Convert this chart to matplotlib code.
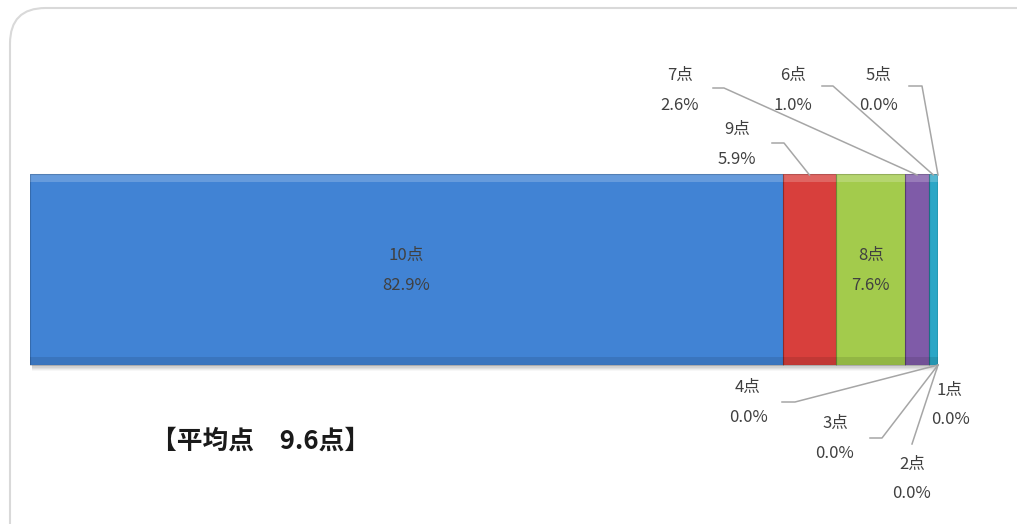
import matplotlib
matplotlib.use('Agg')
import matplotlib.pyplot as plt
from matplotlib.patches import FancyBboxPatch
import numpy as np

plt.rcParams['font.family'] = ['Noto Sans CJK JP', 'DejaVu Sans']

#%% data
labels = ['10点', '9点', '8点', '7点', '6点', '5点', '4点', '3点', '2点', '1点']
values = [82.9, 5.9, 7.6, 2.6, 1.0, 0.0, 0.0, 0.0, 0.0, 0.0]
colors = ['#4183d4', '#d83f3c', '#a3cb4c', '#7f5ba8', '#2ba6c6',
          '#f59d3d', '#8db3e2', '#e6b9b8', '#d7e4bd', '#ccc1da']
average_text = '【平均点　9.6点】'

#%% layout (pixels, origin top-left)
W, H = 1017, 524
BAR_L, BAR_R = 30, 938
BAR_TOP, BAR_BOT = 174, 365
BAR_Y = (BAR_TOP + BAR_BOT) / 2
BAR_H = BAR_BOT - BAR_TOP

# outside labels: text centre, line start, elbow, attach to top/bottom
outside = {
    '9点': ((737, 144), (772, 143), (784, 143), 'top'),
    '7点': ((680, 90), (713, 88), (724, 88), 'top'),
    '6点': ((793, 90), (822, 86), (833, 86), 'top'),
    '5点': ((879, 90), (909, 86), (922, 86), 'top'),
    '4点': ((748, 402), (782, 402), (795, 402), 'bot'),
    '3点': ((835, 438), (870, 438), (882, 438), 'bot'),
    '2点': ((912, 479), None, (912, 444), 'bot'),
    '1点': ((950, 405), None, None, 'bot'),
}
inside = ['10点', '8点']

def px(x):
    return (x - BAR_L) / (BAR_R - BAR_L) * 100

#%% figure
fig = plt.figure(figsize=(W / 100, H / 100), dpi=100)
fig.patches.append(FancyBboxPatch((10 / W, -0.1), 1.1, (524 - 8) / H + 0.1,
                                  boxstyle='round,pad=0,rounding_size=0.035',
                                  transform=fig.transFigure, facecolor='white',
                                  edgecolor='#d9d9d9', linewidth=1.5, zorder=-1,
                                  mutation_aspect=W / H))

ax = fig.add_axes([BAR_L / W, 0, (BAR_R - BAR_L) / W, 1])
ax.set_xlim(0, 100)
ax.set_ylim(H, 0)
ax.axis('off')

lefts = np.concatenate([[0], np.cumsum(values)[:-1]])
centers = lefts + np.array(values) / 2

# soft shadow under bar
for i, a in enumerate([0.06, 0.05, 0.04, 0.03]):
    ax.barh(BAR_Y + 3 + i, 100, left=0.2, height=BAR_H, color='black',
            alpha=a, zorder=1)

ax.barh(BAR_Y, values, left=lefts, height=BAR_H, color=colors,
        edgecolor='none', zorder=2)
# bevel: light top, dark bottom
ax.barh(BAR_TOP + 4, values, left=lefts, height=8, color='white',
        alpha=0.2, zorder=3)
ax.barh(BAR_BOT - 4, values, left=lefts, height=8, color='black',
        alpha=0.1, zorder=3)
ax.barh(BAR_Y, values, left=lefts, height=BAR_H, color='none',
        edgecolor=(0, 0, 0, 0.18), linewidth=0.8, zorder=4)

txt_kw = dict(ha='center', va='center', fontsize=12, color='#404040',
              linespacing=2.0, zorder=6)

for i, lab in enumerate(labels):
    s = f'{lab}\n{values[i]:.1f}%'
    if lab in inside:
        ax.text(centers[i], BAR_Y + 1, s, **txt_kw)
        continue
    (tx, ty), start, elbow, side = outside[lab]
    ax.text(px(tx), ty, s, **txt_kw)
    if elbow is None:
        continue
    end_y = BAR_TOP + 1 if side == 'top' else BAR_BOT
    xs, ys = [], []
    if start is not None:
        xs.append(px(start[0]))
        ys.append(start[1])
    xs += [px(elbow[0]), centers[i]]
    ys += [elbow[1], end_y]
    ax.plot(xs, ys, color='#a6a6a6', lw=1.1, zorder=5, clip_on=False)

ax.text(px(261), 441, average_text, ha='center', va='center', fontsize=18.5,
        fontweight='bold', color='#1a1a1a')

fig.savefig('out.png', dpi=100)
